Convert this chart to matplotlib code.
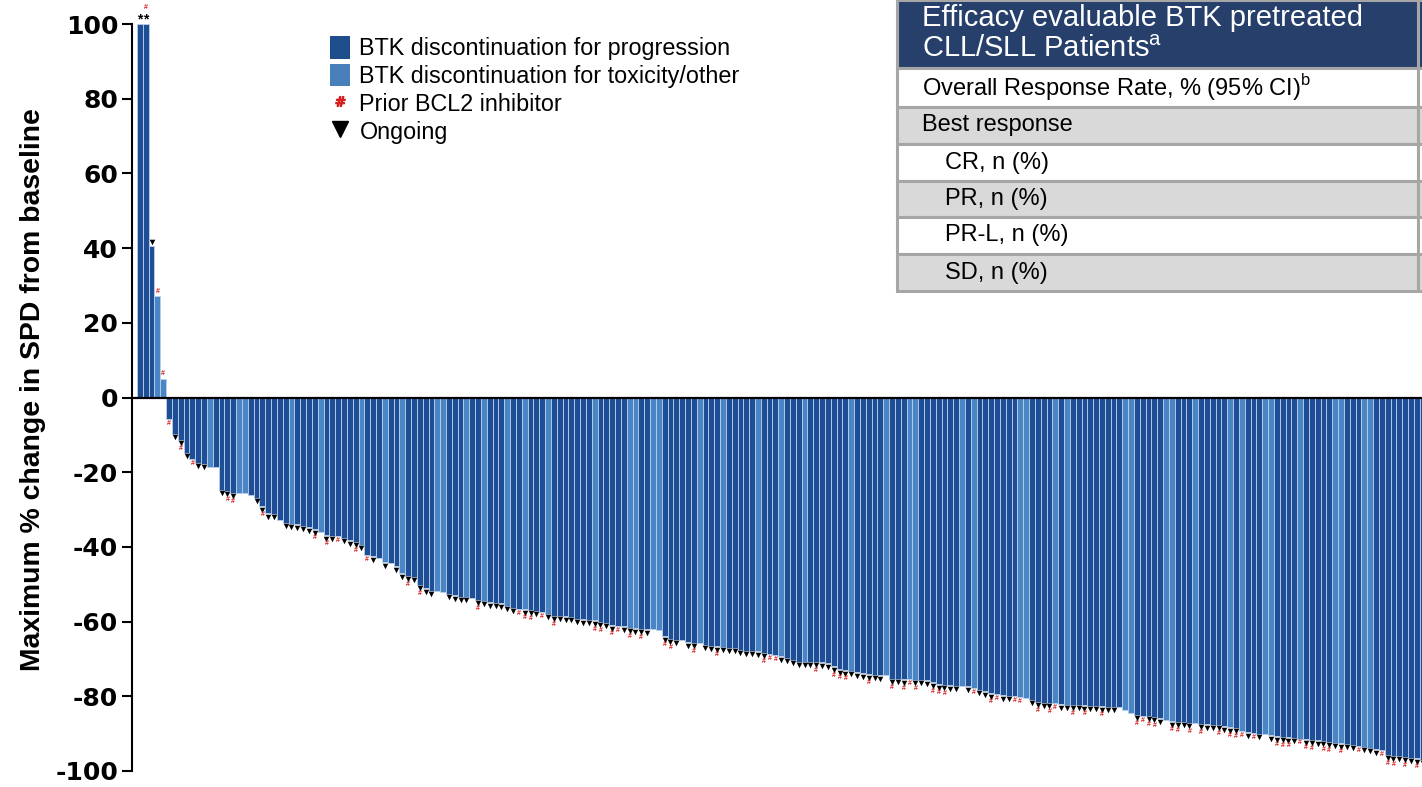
import matplotlib
matplotlib.use("Agg")
import matplotlib.pyplot as plt
from matplotlib.patches import Patch, Rectangle
from matplotlib.lines import Line2D

plt.rcParams['font.family'] = ['Liberation Sans', 'DejaVu Sans']

# Maximum % change in SPD per patient, sorted
valores = [
    100, 100, 40.5, 27.2, 5.0, -5.7, -9.7, -11.4, -14.8, -16.4,
    -17.5, -17.7, -18.7, -18.7, -24.8, -24.9, -25.6, -25.6, -25.6, -26.2,
    -26.9, -29.1, -31.0, -31.2, -32.9, -33.6, -33.8, -34.0, -34.4, -34.8,
    -35.3, -36.0, -36.9, -37.0, -37.1, -37.5, -38.2, -38.7, -39.5, -42.3,
    -42.5, -43.0, -44.1, -44.3, -45.2, -47.1, -47.8, -48.0, -50.1, -51.1,
    -51.7, -51.9, -52.1, -52.6, -53.0, -53.3, -53.4, -53.6, -54.1, -54.4,
    -54.8, -55.0, -55.1, -55.8, -56.3, -56.5, -56.7, -56.8, -57.1, -57.4,
    -58.0, -58.4, -58.5, -58.6, -58.7, -59.3, -59.4, -59.5, -59.7, -60.0,
    -60.3, -61.0, -61.2, -61.3, -61.6, -61.8, -61.9, -62.1, -62.1, -62.2,
    -63.9, -64.6, -64.8, -64.9, -65.5, -65.7, -65.8, -66.2, -66.4, -66.6,
    -66.8, -67.0, -67.1, -67.6, -67.8, -67.9, -68.0, -68.3, -68.8, -69.0,
    -69.3, -69.7, -70.2, -70.7, -70.8, -70.8, -70.8, -70.9, -71.2, -72.0,
    -72.8, -73.0, -73.2, -73.6, -73.8, -74.1, -74.3, -74.4, -74.4, -75.3,
    -75.4, -75.5, -75.5, -75.6, -75.6, -75.7, -76.3, -76.8, -76.9, -77.1,
    -77.2, -77.2, -77.3, -77.7, -78.2, -78.7, -79.2, -79.5, -79.7, -79.9,
    -80.0, -80.3, -80.4, -81.0, -81.5, -81.7, -81.8, -81.9, -82.1, -82.2,
    -82.3, -82.3, -82.4, -82.5, -82.6, -82.7, -82.8, -82.9, -82.9, -83.8,
    -84.4, -85.0, -85.2, -85.3, -85.5, -85.9, -86.3, -86.7, -86.8, -86.9,
    -87.1, -87.1, -87.3, -87.5, -87.6, -87.7, -88.0, -88.3, -88.4, -89.2,
    -89.6, -89.8, -90.0, -90.0, -90.4, -90.7, -90.8, -91.0, -91.1, -91.3,
    -91.5, -91.7, -91.8, -91.9, -92.2, -92.5, -92.6, -92.8, -93.0, -93.4,
    -93.6, -93.8, -94.2, -94.4, -95.7, -95.9, -96.0, -96.2, -96.4, -96.6,
    -97.0,
]

# pacientes que descontinuaram BTK por toxicidade/outro
toxicidade = [3, 4, 12, 17, 18, 26, 31, 38, 42, 45, 51, 52, 56, 59, 63, 66, 70,
              78, 84, 85, 88, 89, 96, 100, 106, 110, 114, 122, 128, 132, 133,
              141, 143, 151, 152, 157, 159, 169, 170, 176, 177, 181, 187, 189,
              193, 194, 199, 205, 206, 210, 211]

# tratamento em andamento
em_andamento = [2, 6, 7, 8, 10, 11, 14, 15, 16, 20, 21, 22, 23, 25, 26, 27, 28,
                29, 30, 32, 33, 35, 36, 37, 38, 40, 42, 44, 45, 46, 47, 48, 49,
                50, 53, 54, 55, 56, 58, 59, 60, 61, 62, 63, 64, 66, 67, 68, 70,
                71, 72, 73, 74, 75, 76, 77, 78, 79, 80, 81, 83, 84, 85, 86, 87,
                90, 91, 92, 94, 95, 97, 98, 99, 100, 101, 102, 103, 104, 105,
                106, 107, 110, 111, 112, 113, 114, 115, 116, 117, 118, 119, 120,
                121, 122, 123, 124, 125, 126, 127, 129, 130, 131, 133, 134, 135,
                136, 137, 138, 139, 140, 142, 144, 145, 146, 148, 149, 153, 154,
                155, 156, 158, 159, 160, 161, 162, 163, 164, 165, 166, 167, 171,
                173, 174, 175, 177, 178, 179, 180, 182, 183, 184, 185, 186, 187,
                188, 190, 192, 194, 195, 196, 197, 198, 200, 201, 202, 203, 204,
                205, 206, 207, 208, 210, 211, 212, 214, 215, 216, 217, 218, 219,
                220]

# inibidor BCL2 prévio
bcl2_previo = [1, 3, 4, 5, 7, 9, 15, 16, 21, 30, 32, 34, 37, 39, 46, 48, 58, 65,
               66, 67, 69, 71, 78, 79, 81, 82, 84, 86, 90, 91, 95, 99, 107, 108,
               109, 116, 119, 120, 121, 125, 129, 131, 132, 133, 136, 137, 138,
               143, 146, 147, 150, 151, 154, 156, 157, 160, 162, 165, 171, 172,
               173, 174, 177, 178, 180, 182, 185, 187, 188, 189, 191, 195, 196,
               197, 199, 200, 201, 203, 204, 206, 209, 213, 214, 215, 217, 219]

# acima de 100% (truncados)
acima_100 = [0, 1]

y_ticks = [100, 80, 60, 40, 20, 0, -20, -40, -60, -80, -100]

legenda = ["BTK discontinuation for progression",
           "BTK discontinuation for toxicity/other",
           "Prior BCL2 inhibitor",
           "Ongoing"]

linhas_tabela = ["Overall Response Rate, % (95% CI)$^\\mathregular{b}$",
                 "Best response",
                 "CR, n (%)",
                 "PR, n (%)",
                 "PR-L, n (%)",
                 "SD, n (%)"]
recuo = [False, False, True, True, True, True]

azul_escuro = "#1E4F96"
azul_claro = "#4A86C6"

fig = plt.figure(figsize=(14.22, 7.87), dpi=100)
larg_ax = 1 - 131.5 / 1422
ax = fig.add_axes([131.5 / 1422, 16 / 787, larg_ax, 747 / 787])

x = list(range(len(valores)))
cores = [azul_claro if i in toxicidade else azul_escuro for i in x]
ax.bar(x, valores, width=1.0, color=cores, edgecolor="#BCD0EA", linewidth=0.6, zorder=2)

# marcadores abaixo (ou acima) das barras
for i in em_andamento:
    v = valores[i]
    y = v + 1.0 if v > 0 else v - 0.9
    ax.scatter(i, y, marker="v", s=16, color="black", zorder=4, clip_on=False, linewidths=0)
for i in bcl2_previo:
    v = valores[i]
    if v > 0:
        y = v + 4.3 if i in acima_100 else v + 1.3
    else:
        y = v - 2.3 if i in em_andamento else v - 1.2
    ax.text(i, y, "#", color="#D42020", fontsize=5, fontweight="bold",
            ha="center", va="center", zorder=4, clip_on=False)
for i in acima_100:
    ax.text(i, valores[i] + 1.2, "*", color="black", fontsize=10, fontweight="bold",
            ha="center", va="center", zorder=4, clip_on=False)

ax.axhline(0, color="black", linewidth=1.6, zorder=3)

ax.set_xlim(-1.44, 219.9)
ax.set_ylim(-100, 100)
ax.set_yticks(y_ticks)
ax.set_yticklabels([str(t) for t in y_ticks], fontsize=18, fontweight="bold",
                   family="DejaVu Sans")
ax.tick_params(axis="y", direction="out", length=7.5, width=1.5, pad=2)
ax.set_xticks([])
for lado in ["top", "right", "bottom"]:
    ax.spines[lado].set_visible(False)
ax.spines["left"].set_linewidth(1.5)
ax.set_ylabel("Maximum % change in SPD from baseline", fontsize=20.4,
              fontweight="bold", va="center")
ax.yaxis.set_label_coords((33 - 131.5) / (1422 * larg_ax), 0.51)

handles = [Patch(facecolor="#1F4E8C", edgecolor="none"),
           Patch(facecolor="#4A80BA", edgecolor="none"),
           Line2D([], [], marker="$\\#$", color="#D42020", ls="", markersize=7),
           Line2D([], [], marker="v", color="black", ls="", markersize=12)]
fig.legend(handles, legenda, loc="upper left", bbox_to_anchor=(330 / 1422, 1 - 36 / 787),
           frameon=False, fontsize=16.8, handlelength=0.86, handleheight=1.12,
           handletextpad=0.4, labelspacing=0.15, borderpad=0, borderaxespad=0)

# tabela de eficácia no canto superior direito
tab = fig.add_axes([0, 0, 1, 1], zorder=5)
tab.set_xlim(0, 1422)
tab.set_ylim(787, 0)
tab.axis("off")
limites = [0, 68, 107, 144, 181, 217, 254, 291]
fundos = ["#263F6B", "white", "#D9D9D9", "white", "#D9D9D9", "white", "#D9D9D9"]
for k in range(len(limites) - 1):
    y0, y1 = limites[k], limites[k + 1]
    for x0, x1 in [(897, 1418), (1418, 1440)]:
        tab.add_patch(Rectangle((x0, y0), x1 - x0, y1 - y0, facecolor=fundos[k],
                                edgecolor="#A6A6A6", linewidth=2.2))
tab.text(922, 18, "Efficacy evaluable BTK pretreated", color="white", fontsize=21,
         ha="left", va="center")
tab.text(922, 49, "CLL/SLL Patients$^\\mathregular{a}$", color="white", fontsize=21,
         ha="left", va="center")
for k, txt in enumerate(linhas_tabela):
    yc = (limites[k + 1] + limites[k + 2]) / 2
    tab.text(945 if recuo[k] else 922, yc, txt, color="black", fontsize=17,
             ha="left", va="center")

fig.savefig("out.png", dpi=100)
